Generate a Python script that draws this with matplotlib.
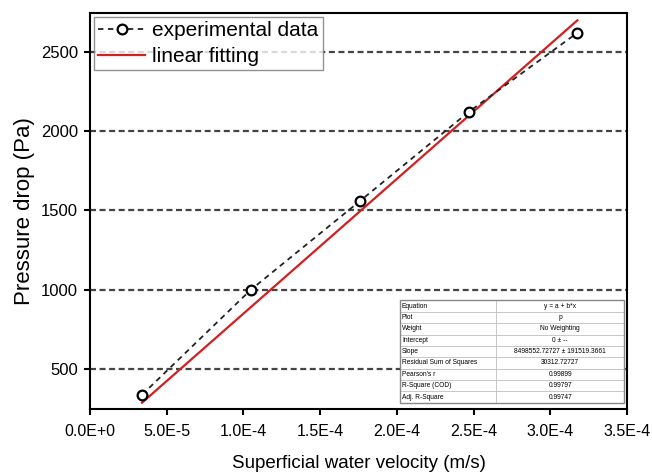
import numpy as np
import matplotlib
matplotlib.use('Agg')
import matplotlib.pyplot as plt

plt.rcParams['font.family'] = ['Liberation Sans', 'DejaVu Sans']

# data
velocity = [3.39e-5, 1.048e-4, 1.757e-4, 2.466e-4, 3.175e-4]
pressure = [338, 1000, 1558, 2120, 2620]
slope = 8498552.72727  # linear fit through origin

y_ticks = [500, 1000, 1500, 2000, 2500]
x_ticks = [0, 5e-5, 1e-4, 1.5e-4, 2e-4, 2.5e-4, 3e-4, 3.5e-4]
x_ticklabels = ['0.0E+0', '5.0E-5', '1.0E-4', '1.5E-4', '2.0E-4', '2.5E-4', '3.0E-4', '3.5E-4']

table_rows = [
    ['Equation', 'y = a + b*x'],
    ['Plot', 'p'],
    ['Weight', 'No Weighting'],
    ['Intercept', '0 \u00b1 --'],
    ['Slope', '8498552.72727 \u00b1 191519.3661'],
    ['Residual Sum of Squares', '30312.72727'],
    ["Pearson's r", '0.99899'],
    ['R-Square (COD)', '0.99797'],
    ['Adj. R-Square', '0.99747'],
]

fig = plt.figure(figsize=(6.52, 4.74), dpi=100)
ax = fig.add_axes([0.138, 0.137, 0.824, 0.836])

ax.set_xlim(0, 3.5e-4)
ax.set_ylim(248, 2746)

for yv in y_ticks:
    ax.axhline(yv, color='#444444', lw=1.6, ls=(0, (2.7, 1.6)), zorder=1)

vx = np.array(velocity)
ax.plot(vx, pressure, color='#222222', lw=1.3, ls=(0, (3, 2.5)),
        marker='o', ms=7, mfc='white', mec='black', mew=1.6,
        label='experimental data', zorder=3)
ax.plot([vx[0], vx[-1]], [slope * vx[0], slope * vx[-1]], color='#d21f1f', lw=1.6,
        label='linear fitting', zorder=2)

ax.set_xticks(x_ticks)
ax.set_xticklabels(x_ticklabels)
ax.set_yticks(y_ticks)
ax.tick_params(direction='out', length=4.5, width=1.5)
ax.tick_params(axis='x', labelsize=11.5, pad=6)
ax.tick_params(axis='y', labelsize=12, pad=4)
for s in ax.spines.values():
    s.set_linewidth(1.5)

ax.set_xlabel('Superficial water velocity (m/s)', fontsize=13.5, labelpad=12)
ax.set_ylabel('Pressure drop (Pa)', fontsize=16, labelpad=4)

leg = ax.legend(loc='upper left', bbox_to_anchor=(0.0, 1.0), fontsize=15,
                frameon=True, fancybox=False, edgecolor='#777777',
                handlelength=2.25, handletextpad=0.35, borderpad=0.22,
                labelspacing=0.32, borderaxespad=0.18)
leg.get_frame().set_linewidth(1.0)

tbl = ax.table(cellText=table_rows, bbox=[0.577, 0.016, 0.417, 0.258],
               colWidths=[0.43, 0.57], cellLoc='left', zorder=5)
tbl.auto_set_font_size(False)
tbl.set_fontsize(4.8)
for (r, c), cell in tbl.get_celld().items():
    cell.set_edgecolor('#bbbbbb')
    cell.set_linewidth(0.5)
    cell.set_facecolor('white')
    cell.PAD = 0.02
    if c == 1:
        cell.get_text().set_ha('center')
        cell._loc = 'center'
# outer box of the inset table
ax.add_patch(plt.Rectangle((0.577, 0.016), 0.417, 0.258, transform=ax.transAxes,
                           fill=False, edgecolor='#888888', lw=1.0, zorder=6))

fig.savefig('out.png', dpi=100)
